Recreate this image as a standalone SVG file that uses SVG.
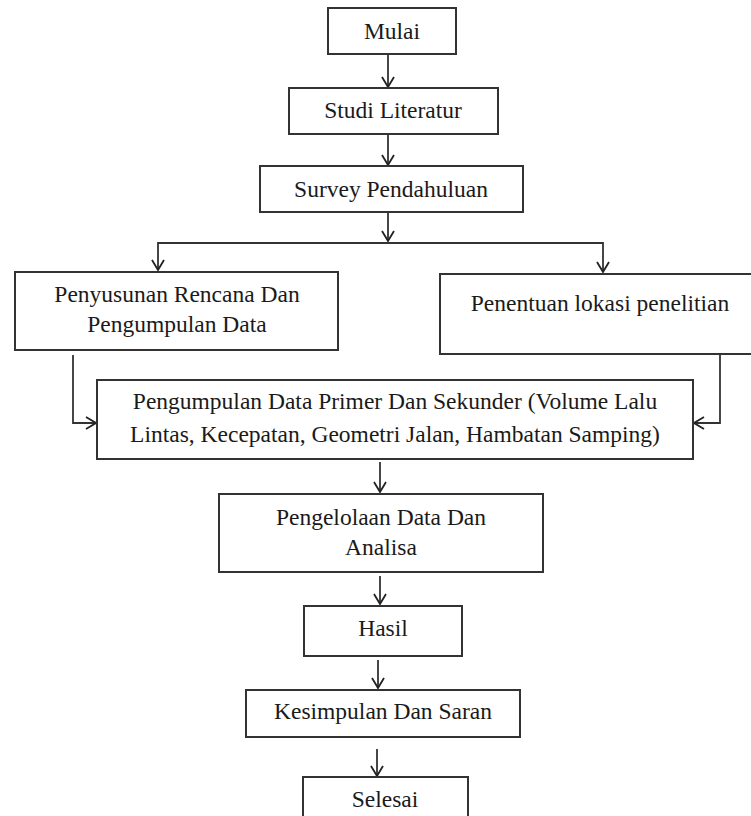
<svg xmlns="http://www.w3.org/2000/svg" width="751" height="816" viewBox="0 0 751 816">
<defs>
<marker id="ah" viewBox="0 0 12 14" markerWidth="12" markerHeight="14" refX="11" refY="7" orient="auto" markerUnits="userSpaceOnUse">
<polyline points="1,1 11,7 1,13" fill="none" stroke="#222" stroke-width="1.8"/>
</marker>
<style>
.box{fill:#fff;stroke:#333;stroke-width:2}
.t{font-family:'Liberation Serif','Times New Roman',Tinos,'DejaVu Serif',serif;font-size:23.5px;fill:#1a1a1a;text-anchor:middle}
.c{fill:none;stroke:#333;stroke-width:1.8}
</style>
</defs>
<rect width="751" height="816" fill="#fff"/>
<g id="connectors">
<path class="c" d="M388,55 V87" marker-end="url(#ah)"/>
<path class="c" d="M388,135 V165" marker-end="url(#ah)"/>
<path class="c" d="M388,213 V241" marker-end="url(#ah)"/>
<path class="c" d="M388,243 H158 V270" marker-end="url(#ah)"/>
<path class="c" d="M388,243 H603 V272" marker-end="url(#ah)"/>
<path class="c" d="M73,355 V423 H96" marker-end="url(#ah)"/>
<path class="c" d="M720,355 V423 H694" marker-end="url(#ah)"/>
<path class="c" d="M380,462 V492" marker-end="url(#ah)"/>
<path class="c" d="M380,576 V604" marker-end="url(#ah)"/>
<path class="c" d="M378,660 V688" marker-end="url(#ah)"/>
<path class="c" d="M377,749 V776" marker-end="url(#ah)"/>
</g>
<g id="mulai"><rect class="box" x="328" y="8" width="128" height="46"/><text class="t" x="392" y="39" font-family="Liberation Serif, serif">Mulai</text></g>
<g id="studi"><rect class="box" x="289" y="88" width="209" height="46"/><text class="t" x="393" y="118">Studi Literatur</text></g>
<g id="survey"><rect class="box" x="260" y="166" width="263" height="46"/><text class="t" x="391" y="197">Survey Pendahuluan</text></g>
<g id="penyusunan"><rect class="box" x="15" y="272" width="323" height="78"/><text class="t" x="177" y="302">Penyusunan Rencana Dan</text><text class="t" x="177" y="332">Pengumpulan Data</text></g>
<g id="penentuan"><rect class="box" x="440" y="274" width="314" height="80"/><text class="t" x="600" y="311">Penentuan lokasi penelitian</text></g>
<g id="pengumpulan"><rect class="box" x="97" y="380" width="596" height="79"/><text class="t" x="395" y="409">Pengumpulan Data Primer Dan Sekunder (Volume Lalu</text><text class="t" x="395" y="442">Lintas, Kecepatan, Geometri Jalan, Hambatan Samping)</text></g>
<g id="pengelolaan"><rect class="box" x="219" y="494" width="324" height="78"/><text class="t" x="381" y="525">Pengelolaan Data Dan</text><text class="t" x="381" y="555">Analisa</text></g>
<g id="hasil"><rect class="box" x="304" y="606" width="158" height="50"/><text class="t" x="383" y="636">Hasil</text></g>
<g id="kesimpulan"><rect class="box" x="246" y="690" width="274" height="47"/><text class="t" x="383" y="719">Kesimpulan Dan Saran</text></g>
<g id="selesai"><rect class="box" x="303" y="777" width="165" height="50"/><text class="t" x="385" y="807">Selesai</text></g>
</svg>
